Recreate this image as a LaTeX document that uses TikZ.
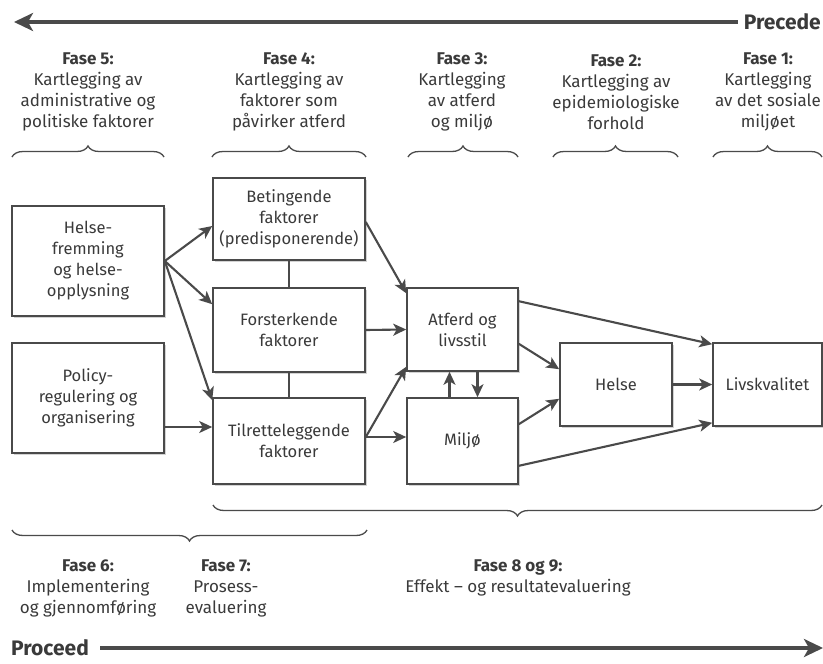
\documentclass[tikz,border=0pt]{standalone}
\usepackage{fontspec}
\setmainfont{Fira Sans}
\usetikzlibrary{arrows.meta,decorations.pathreplacing,shadows}
\definecolor{txt}{HTML}{3A3A3A}
\definecolor{ln}{HTML}{4A4A4A}

\begin{document}
\begin{tikzpicture}[x=1pt,y=1pt,
	every node/.style={font=\fontsize{17}{21}\selectfont,text=txt},
	head/.style={align=center},
	box/.style={draw=ln,line width=1.6pt,fill=white,align=center,inner sep=0pt,
		font=\fontsize{16.5}{21}\selectfont,
		drop shadow={shadow xshift=2pt,shadow yshift=-2pt,opacity=0.35}},
	arr/.style={draw=ln,line width=2.1pt,-{Stealth[length=13pt,width=12pt,inset=3.5pt]}},
	bigarr/.style={draw=ln,line width=3.2pt,-{Stealth[length=19pt,width=18pt,inset=5pt]}},
	brc/.style={draw=ln,line width=1.3pt,decorate,decoration={brace,amplitude=11pt}},
	pp/.style={font=\fontsize{21}{24}\selectfont\bfseries}]
	% the page: 823 x 664, one unit is one pixel
	\useasboundingbox (0,0) rectangle (823,-664);

	% Precede runs right to left along the top
	\node[anchor=east,pp,inner sep=1pt] (pre) at (822,-22) {Precede};
	\coordinate (preL) at (14,-22);
	\draw[bigarr] ([xshift=-5pt]pre.west) -- (preL);

	% phase headings above the boxes
	\node[head] (h5) at (88,-92) {\textbf{Fase 5:}\\Kartlegging av\\administrative og\\politiske faktorer};
	\node[head] (h4) at (289,-92) {\textbf{Fase 4:}\\Kartlegging av\\faktorer som\\påvirker atferd};
	\node[head] (h3) at (462,-92) {\textbf{Fase 3:}\\Kartlegging\\av atferd\\og miljø};
	\node[head] (h2) at (616,-92) {\textbf{Fase 2:}\\Kartlegging av\\epidemiologiske\\forhold};
	\node[head] (h1) at (768,-92) {\textbf{Fase 1:}\\Kartlegging\\av det sosiale\\miljøet};

	% braces under the headings
	\draw[brc] (12,-157) -- (164,-157);
	\draw[brc] (212,-157) -- (366,-157);
	\draw[brc] (408,-157) -- (518,-157);
	\draw[brc] (553,-157) -- (678,-157);
	\draw[brc] (713,-157) -- (822,-157);

	% the boxes
	\node[box,minimum width=152pt,minimum height=110pt] (hf) at (88,-261) {Helse-\\fremming\\og helse-\\opplysning};
	\node[box,minimum width=152pt,minimum height=110pt] (pr) at (88,-398) {Policy-\\regulering og\\organisering};
	\node[box,minimum width=152pt,minimum height=82pt] (bf) at (289,-219) {Betingende\\faktorer\\(predisponerende)};
	\node[box,minimum width=152pt,minimum height=84pt] (ff) at (289,-330) {Forsterkende\\faktorer};
	\node[box,minimum width=152pt,minimum height=86pt] (tf) at (289,-441) {Tilretteleggende\\faktorer};
	\node[box,minimum width=111pt,minimum height=83pt] (at) at (462.5,-329.5) {Atferd og\\livsstil};
	\node[box,minimum width=111pt,minimum height=86pt] (mi) at (462.5,-441) {Miljø};
	\node[box,minimum width=112pt,minimum height=83pt] (he) at (616,-384.5) {Helse};
	\node[box,minimum width=109pt,minimum height=83pt] (lk) at (767.5,-384.5) {Livskvalitet};

	% lines between the factor boxes
	\draw[draw=ln,line width=1.6pt] (bf) -- (ff);
	\draw[draw=ln,line width=1.6pt] (ff) -- (tf);

	% arrows from fase 5 to fase 4
	\draw[arr] (hf.east) -- ([yshift=-7pt]bf.west);
	\draw[arr] (hf.east) -- ([yshift=-17pt]ff.north west);
	\draw[arr] (hf.east) -- ([yshift=-3pt]tf.north west);
	\coordinate (p1) at ([yshift=-29pt]pr.east);
	\draw[arr] (p1) -- (p1 -| tf.west);

	% arrows from fase 4 to fase 3
	\draw[arr] ([yshift=-3pt]bf.east) -- ([yshift=-6pt]at.north west);
	\draw[arr] (ff.east) -- (at.west);
	\draw[arr] ([yshift=4pt]tf.east) -- ([yshift=5pt]at.south west);
	\draw[arr] ([yshift=4pt]tf.east) -- ([yshift=4pt]mi.west);
	\draw[arr] ([xshift=-13pt]mi.north) -- ([xshift=-13pt]at.south);
	\draw[arr] ([xshift=15pt]at.south) -- ([xshift=15pt]mi.north);

	% arrows on to Helse and Livskvalitet
	\draw[arr] ([yshift=28pt]at.south east) -- ([yshift=-27pt]he.north west);
	\draw[arr] ([yshift=-27pt]mi.north east) -- ([yshift=28pt]he.south west);
	\draw[arr] ([yshift=-14pt]at.north east) -- ([yshift=-2pt]lk.north west);
	\draw[arr] (he.east) -- (lk.west);
	\draw[arr] ([yshift=19pt]mi.south east) -- ([yshift=4pt]lk.south west);

	% braces under the boxes
	\draw[brc,decoration={mirror}] (213,-505) -- (822,-505);
	\draw[brc,decoration={mirror}] (12,-530) -- (367,-530);

	% phase headings below
	\node[head] (h6) at (88,-588) {\textbf{Fase 6:}\\Implementering\\og gjennomføring};
	\node[head] (h7) at (226,-588) {\textbf{Fase 7:}\\Prosess-\\evaluering};
	\node[head] (h8) at (518,-578) {\textbf{Fase 8 og 9:}\\Effekt – og resultatevaluering};

	% Proceed runs left to right along the bottom
	\node[anchor=west,pp,inner sep=1pt] (pro) at (10,-648) {Proceed};
	\coordinate (proR) at (823,-648);
	\draw[bigarr] ([xshift=10pt]pro.east) -- (proR);
\end{tikzpicture}
\end{document}
